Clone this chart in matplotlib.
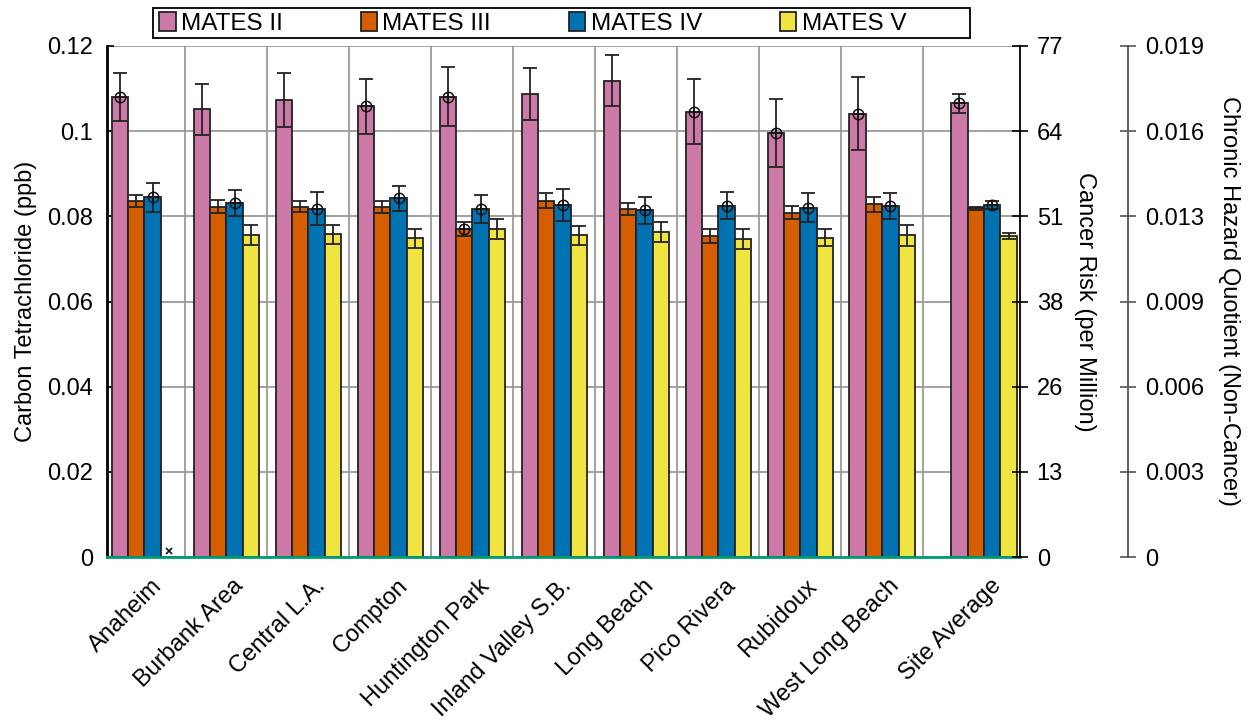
import numpy as np
import matplotlib
matplotlib.use("Agg")
import matplotlib.pyplot as plt
import matplotlib.transforms as mtransforms
from matplotlib.patches import Rectangle

plt.rcParams['font.family'] = ['Liberation Sans', 'DejaVu Sans']
plt.rcParams['font.size'] = 17

sites = ["Anaheim", "Burbank Area", "Central L.A.", "Compton", "Huntington Park",
         "Inland Valley S.B.", "Long Beach", "Pico Rivera", "Rubidoux",
         "West Long Beach", "Site Average"]
site_pos = [0, 1, 2, 3, 4, 5, 6, 7, 8, 9, 10.24]

series = ["MATES II", "MATES III", "MATES IV", "MATES V"]
colors = ["#CC79A7", "#D55E00", "#0072B2", "#F0E442"]

mates2 = [0.1080, 0.1051, 0.1073, 0.1058, 0.1081, 0.1087, 0.1118, 0.1046, 0.0996, 0.1041, 0.1065]
mates3 = [0.0837, 0.0823, 0.0823, 0.0823, 0.0770, 0.0837, 0.0817, 0.0754, 0.0809, 0.0828, 0.0819]
mates4 = [0.0845, 0.0832, 0.0818, 0.0842, 0.0817, 0.0827, 0.0814, 0.0825, 0.0820, 0.0824, 0.0827]
mates5 = [np.nan, 0.0756, 0.0758, 0.0748, 0.0770, 0.0755, 0.0763, 0.0747, 0.0750, 0.0755, 0.0754]

err2 = [0.0057, 0.0060, 0.0064, 0.0064, 0.0069, 0.0061, 0.0060, 0.0077, 0.0080, 0.0086, 0.0022]
err3 = [0.0014, 0.0015, 0.0013, 0.0014, 0.0017, 0.0018, 0.0015, 0.0016, 0.0015, 0.0017, 0.0004]
err4 = [0.0034, 0.0031, 0.0039, 0.0030, 0.0033, 0.0037, 0.0032, 0.0031, 0.0034, 0.0030, 0.0010]
err5 = [np.nan, 0.0023, 0.0022, 0.0022, 0.0023, 0.0022, 0.0023, 0.0023, 0.0020, 0.0024, 0.0008]

flag2 = [1, 0, 0, 1, 1, 0, 0, 1, 1, 1, 1]
flag3 = [0, 0, 0, 0, 1, 0, 0, 0, 0, 0, 0]
flag4 = [1, 1, 1, 1, 1, 1, 1, 1, 1, 1, 1]
flag5 = [0, 0, 0, 0, 0, 0, 0, 0, 0, 0, 0]

left_ticks = [0, 0.02, 0.04, 0.06, 0.08, 0.1, 0.12]
left_ticklabels = ["0", "0.02", "0.04", "0.06", "0.08", "0.1", "0.12"]
risk_ticklabels = ["0", "13", "26", "38", "51", "64", "77"]
hq_ticklabels = ["0", "0.003", "0.006", "0.009", "0.013", "0.016", "0.019"]

values = [mates2, mates3, mates4, mates5]
errors = [err2, err3, err4, err5]
flags = [flag2, flag3, flag4, flag5]

W, H = 1254, 727
fig = plt.figure(figsize=(W / 100, H / 100), dpi=100)
ax = fig.add_axes([107 / W, 1 - 557 / H, (1020 - 107) / W, (557 - 46) / H])

bw = 0.2
offsets = [-0.3, -0.1, 0.1, 0.3]
x = np.array(site_pos)

# grid
ax.set_axisbelow(True)
for yv in left_ticks:
    ax.axhline(yv, color="#9a9a9a", lw=1.3, zorder=0)
for xv in np.arange(0.5, 10, 1.0):
    ax.axvline(xv, color="#9a9a9a", lw=1.3, zorder=0)

handles = []
for i in range(4):
    v = np.array(values[i], dtype=float)
    e = np.array(errors[i], dtype=float)
    xi = x + offsets[i]
    b = ax.bar(xi, np.nan_to_num(v), width=bw, color=colors[i], edgecolor="#222222",
               linewidth=1.3, zorder=2, label=series[i])
    handles.append(b)
    m = ~np.isnan(v)
    ax.errorbar(xi[m], v[m], yerr=e[m], fmt="none", ecolor="#222222", elinewidth=1.3,
                capsize=5.3, capthick=1.3, zorder=3)
    f = np.array(flags[i], dtype=bool) & m
    ax.plot(xi[f], v[f], linestyle="none", marker="o", ms=7.5, mfc="none", mec="#111111",
            mew=1.1, zorder=4)
    ax.plot(xi[f], v[f], linestyle="none", marker="+", ms=7.5, mec="#111111", mew=1.1, zorder=4)
    # missing-data marker
    miss = np.isnan(v)
    if miss.any():
        trans = ax.transData + mtransforms.ScaledTranslation(0, 6 / 100, fig.dpi_scale_trans)
        ax.plot(xi[miss], np.zeros(miss.sum()), linestyle="none", marker="x", ms=4.5,
                mec="#111111", mew=1.2, transform=trans, zorder=4)

ax.set_xlim(-0.457, 10.68)
ax.set_ylim(0, 0.12)
ax.set_yticks(left_ticks)
ax.set_yticklabels(left_ticklabels)
ax.set_xticks(site_pos)
ax.set_xticklabels(sites, rotation=45, ha="right", rotation_mode="anchor")
ax.tick_params(axis="x", length=0, pad=13)
shift = mtransforms.ScaledTranslation(6 / 100, 0, fig.dpi_scale_trans)
for lbl in ax.get_xticklabels():
    lbl.set_transform(lbl.get_transform() + shift)
ax.tick_params(axis="y", direction="in", length=5, width=1.2, pad=10)
ax.set_ylabel("Carbon Tetrachloride (ppb)", labelpad=7)

ax.spines["left"].set_linewidth(2)
ax.spines["left"].set_color("black")
ax.spines["bottom"].set_color("#009E73")
ax.spines["bottom"].set_linewidth(2)
ax.spines["top"].set_visible(False)
ax.spines["right"].set_visible(False)

# Cancer risk axis
ax2 = ax.twinx()
ax2.set_ylim(0, 0.12)
ax2.set_yticks(left_ticks)
ax2.set_yticklabels(risk_ticklabels)
ax2.tick_params(axis="y", direction="inout", length=12, width=1.2, pad=6)
for s in ["left", "top", "bottom"]:
    ax2.spines[s].set_visible(False)
ax2.spines["right"].set_linewidth(1.3)
ax2.spines["right"].set_color("black")
ax2.set_ylabel("Cancer Risk (per Million)", rotation=270, labelpad=24)

# Hazard quotient axis
ax3 = ax.twinx()
ax3.spines["right"].set_position(("outward", 108 * 72 / 100))
ax3.set_ylim(0, 0.12)
ax3.set_yticks(left_ticks)
ax3.set_yticklabels(hq_ticklabels)
ax3.tick_params(axis="y", direction="inout", length=12, width=1.2, pad=6, color="#555555")
for s in ["left", "top", "bottom"]:
    ax3.spines[s].set_visible(False)
ax3.spines["right"].set_linewidth(1.3)
ax3.spines["right"].set_color("#555555")
ax3.set_ylabel("Chronic Hazard Quotient (Non-Cancer)", rotation=270, labelpad=26)

# legend
fig.patches.append(Rectangle((153 / W, 1 - 38 / H), (970 - 153) / W, 30 / H,
                             transform=fig.transFigure, fill=False, edgecolor="black",
                             linewidth=1.3))
leg = fig.legend(handles=handles, labels=series, ncol=4, loc="center left",
                 bbox_to_anchor=(153 / W, 1 - 23.5 / H),
                 borderaxespad=0, frameon=False,
                 handlelength=0.68, handleheight=0.85, handletextpad=0.22,
                 columnspacing=3.2, borderpad=0.25, fontsize=17.5)

fig.savefig("out.png", dpi=100)
